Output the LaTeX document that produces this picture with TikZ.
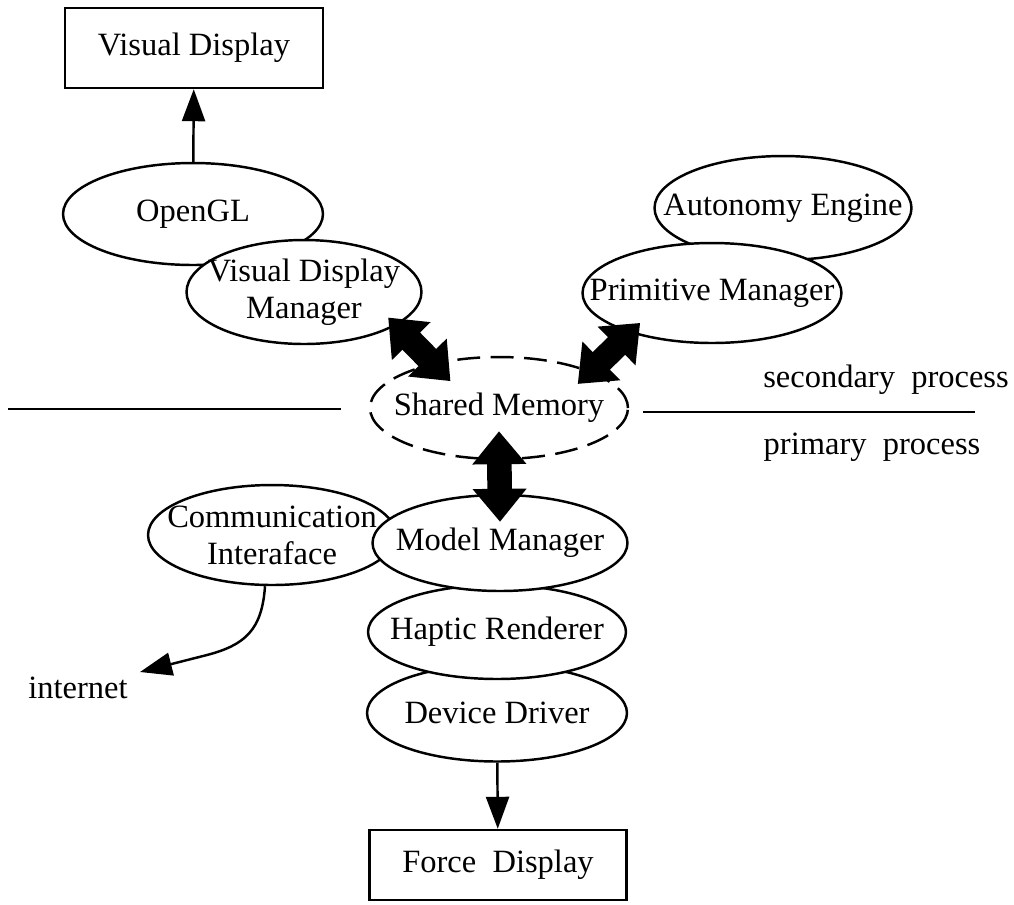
\documentclass[tikz,border=0pt]{standalone}
\usepackage{fontspec}
\setmainfont{Liberation Serif}
\usetikzlibrary{shapes.geometric,arrows.meta}
\begin{document}
\begin{tikzpicture}[
       x=0.02cm, y=-0.02cm,
       font=\fontsize{18.5pt}{21pt}\selectfont,
       display/.style={rectangle, draw=black, line width=1.4pt, align=center, fill=white},
       module/.style={ellipse, draw=black, line width=1.4pt, align=center, fill=white, inner xsep=-1.5cm, inner ysep=-0.6cm},
       shared/.style={module, dash pattern=on 13pt off 6pt},
       arrow/.style={-{Triangle[length=0.64cm, width=0.46cm]}, line width=1.4pt, black},
       fat/.style={{Triangle[length=0.66cm, width=1.04cm]}-{Triangle[length=0.66cm, width=1.04cm]}, line width=14pt, black}
   ]
   \useasboundingbox (0,0) rectangle (1014,904);

   % secondary process
   \node[display, minimum width=5.16cm, minimum height=1.6cm] (vdisp) at (194,48) {Visual Display};
   \node[module, minimum width=5.2cm, minimum height=2.04cm] (opengl) at (193,214) {OpenGL};
   \node[module, minimum width=4.7cm, minimum height=2.08cm] (vdm) at (304,292) {Visual Display\\Manager};
   \node[module, minimum width=5.14cm, minimum height=2.08cm] (auto) at (783,208) {Autonomy Engine};
   \node[module, minimum width=5.18cm, minimum height=2cm] (prim) at (712,293) {Primitive Manager};

   % separation
   \node[shared, minimum width=5.16cm, minimum height=2.04cm] (shm) at (499,408) {Shared Memory};
   \draw[line width=1.4pt] (8,409) -- (341,409);
   \draw[line width=1.4pt] (643,412) -- (975,412);
   \node (second) at (886,380) {secondary\ \ process};
   \node (prima) at (872,447) {primary\ \ process};

   % primary process
   \node[module, minimum width=5.2cm, minimum height=1.94cm] (driver) at (497,713) {Device Driver};
   \node[module, minimum width=5.16cm, minimum height=1.88cm] (haptic) at (497,632) {Haptic Renderer};
   \node[module, minimum width=4.96cm, minimum height=2cm] (comm) at (272,535) {};
   \node[module, minimum width=5.1cm, minimum height=1.92cm] (model) at (500,543) {Model Manager};
   \node[align=center] at (comm.center) {Communication\\Interaface};
   \node[display, minimum width=5.14cm, minimum height=1.4cm] (fdisp) at (498,865) {Force\ \ Display};
   \node (inet) at (78,688) {internet};
   \coordinate (inettip) at (140,672);

   \draw[arrow] (opengl) -- (vdisp);
   \draw[arrow] (driver) -- (fdisp);
   \draw[arrow] ([xshift=-0.14cm]comm.south) .. controls (262,630) and (245,645) .. (207,655) -- (inettip);

   \draw[fat] ([shift={(-8,-8)}]vdm.-20) -- ([shift={(18,18)}]shm.146);
   \draw[fat] ([shift={(10,-10)}]prim.206) -- ([shift={(-13,13)}]shm.22);
   \draw[fat] ([shift={(0,-29)}]shm.south) -- ([shift={(0,28)}]model.north);
\end{tikzpicture}
\end{document}
